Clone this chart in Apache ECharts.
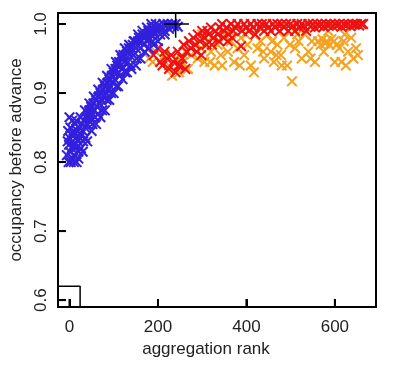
<!DOCTYPE html>
<html>
<head>
<meta charset="utf-8">
<script src="https://cdn.jsdelivr.net/npm/echarts@6/dist/echarts.min.js"></script>
<style>html,body{margin:0;padding:0;background:#fff}#c{width:404px;height:370px}</style>
</head>
<body>
<div id="c"></div>
<script>
var xTicks = [0, 200, 400, 600];
var yTicks = [0.6, 0.7, 0.8, 0.9, 1.0];
var xTitle = 'aggregation rank';
var yTitle = 'occupancy before advance';

var blueData = [[-6,0.81],[-4,0.83],[-3,0.845],[-2,0.80],[-1,0.825],[0,0.835],[1,0.815],[2,0.85],[3,0.80],[4,0.84],[5,0.82],[6,0.86],[7,0.83],[8,0.805],[9,0.845],[10,0.825],[11,0.81],[12,0.84],[13,0.855],[14,0.82],[15,0.835],[16,0.80],[18,0.845],[19,0.83],[20,0.815],[22,0.85],[23,0.835],[25,0.84],[26,0.82],[28,0.855],[30,0.845],[31,0.83],[33,0.86],[35,0.85],[36,0.835],[38,0.865],[40,0.855],[42,0.87],[44,0.86],[45,0.875],[47,0.865],[49,0.88],[50,0.87],[52,0.855],[54,0.885],[56,0.875],[58,0.865],[60,0.89],[62,0.88],[64,0.87],[66,0.895],[68,0.885],[70,0.9],[72,0.89],[74,0.875],[76,0.905],[78,0.895],[80,0.91],[82,0.9],[84,0.89],[86,0.915],[88,0.905],[90,0.92],[92,0.91],[94,0.9],[96,0.925],[98,0.915],[100,0.93],[102,0.92],[104,0.935],[106,0.91],[108,0.94],[110,0.93],[112,0.945],[114,0.925],[116,0.94],[118,0.95],[120,0.935],[122,0.955],[124,0.945],[126,0.93],[128,0.955],[130,0.96],[132,0.945],[134,0.965],[136,0.955],[138,0.94],[140,0.965],[143,0.97],[145,0.955],[147,0.975],[150,0.965],[152,0.95],[155,0.975],[157,0.98],[160,0.965],[162,0.975],[165,0.985],[168,0.97],[170,0.98],[173,0.985],[175,0.975],[178,0.99],[180,0.98],[183,0.985],[186,0.995],[188,0.975],[190,0.99],[193,0.985],[196,0.995],[199,0.99],[202,0.998],[205,0.985],[208,0.995],[212,1.0],[215,0.99],[218,0.997],[222,1.0],[225,0.993],[228,0.998],[232,1.0],[236,0.997],[240,1.0],[245,0.996],
[10,0.80],[20,0.805],[30,0.815],[40,0.83],[50,0.845],[60,0.855],[70,0.865],[80,0.875],[90,0.89],[100,0.9],[110,0.91],[120,0.92],[130,0.93],[140,0.935],[150,0.94],[160,0.95],[170,0.96],[180,0.965],[190,0.97],[200,0.975],[215,0.985],
[0,0.865],[15,0.86],[25,0.865],[35,0.875],[45,0.885],[55,0.895],[65,0.905],[75,0.915],[85,0.925],[95,0.935],[105,0.945],[115,0.955],[125,0.965],[135,0.97],[145,0.975],[155,0.985],[165,0.99],[175,0.995],[185,1.0],[195,1.0]];

var redData = [[190,0.955],[200,0.965],[205,0.945],[210,0.94],[215,0.96],[220,0.95],[225,0.935],[230,0.955],[235,0.945],[240,0.93],[245,0.96],[247,0.94],[250,0.94],[255,0.95],[258,0.97],[262,0.935],[265,0.96],[270,0.975],[275,0.965],[280,0.98],[285,0.97],[288,0.96],[290,0.985],[295,0.975],[298,0.955],[300,0.99],[305,0.98],[310,0.97],[312,0.99],[315,0.985],[320,0.995],[322,0.97],[325,0.98],[330,0.99],[335,0.985],[338,0.975],[340,0.995],[345,1.0],[348,0.98],[350,0.99],[355,0.995],[358,0.975],[360,0.985],[365,1.0],[368,0.98],[370,0.99],[375,0.995],[380,1.0],[388,0.968],[390,0.99],[395,1.0],[400,0.995],[405,0.99],[410,1.0],[415,0.995],[420,0.985],[425,1.0],[430,0.995],[435,1.0],[440,0.99],[445,1.0],[450,0.995],[455,0.99],[460,1.0],[465,0.995],[470,1.0],[475,0.99],[480,1.0],[485,0.995],[490,1.0],[495,0.99],[500,1.0],[505,0.997],[510,0.99],[515,1.0],[520,0.995],[525,1.0],[530,0.997],[535,0.99],[540,1.0],[545,0.996],[550,1.0],[555,0.995],[560,1.0],[565,0.997],[570,1.0],[575,0.996],[580,1.0],[585,0.998],[590,1.0],[595,0.997],[600,1.0],[605,0.998],[610,1.0],[615,0.996],[620,1.0],[625,0.998],[630,1.0],[635,0.997],[640,1.0],[645,0.999],[650,1.0],[655,0.998],[660,1.0],[664,1.0]];

var orangeData = [[180,0.95],[188,0.945],[195,0.96],[215,0.955],[225,0.94],[232,0.925],[240,0.95],[248,0.93],[255,0.945],[262,0.96],[268,0.935],[275,0.955],[282,0.97],[290,0.95],[298,0.965],[300,0.985],[305,0.945],[312,0.975],[318,0.945],[320,0.96],[328,0.94],[335,0.97],[342,0.955],[345,0.94],[350,0.985],[358,0.96],[362,0.99],[365,0.975],[372,0.945],[380,0.965],[385,0.94],[388,0.98],[395,0.955],[398,0.985],[402,0.97],[410,0.94],[417,0.93],[420,0.985],[425,0.965],[432,0.975],[438,0.96],[440,0.95],[448,0.985],[455,0.96],[458,0.975],[462,0.945],[468,0.955],[470,0.97],[478,0.955],[480,0.94],[485,0.98],[492,0.94],[498,0.97],[503,0.917],[510,0.965],[515,0.985],[518,0.975],[525,0.95],[532,0.985],[540,0.96],[545,0.95],[548,0.975],[555,0.945],[562,0.975],[568,0.97],[572,0.978],[575,0.96],[578,0.972],[582,0.975],[585,0.99],[588,0.97],[592,0.978],[598,0.975],[600,0.945],[604,0.97],[610,0.965],[615,0.945],[620,0.975],[622,0.985],[625,0.94],[630,0.96],[637,0.98],[642,0.95],[648,0.965],[652,0.955]];

var crossH = [[214,1.0],[270,1.0]];
var crossV = [[240,0.98],[240,1.02]];
var boxLines = [[24,0.59],[24,0.62],[-26,0.62]];

var X_MIN = -26, X_MAX = 693, Y_MIN = 0.59, Y_MAX = 1.016;
var xSym = 'path://M0,1.3L1.3,0L10,8.7L8.7,10Z M8.7,0L10,1.3L1.3,10L0,8.7Z';
var font = 'Liberation Sans, Arial, sans-serif';

function scatter(data, color) {
  return { type: 'scatter', data: data, symbol: xSym, symbolSize: 11,
    itemStyle: { color: color, opacity: 1 }, silent: true };
}
function seg(data, w, clip) {
  return { type: 'line', data: data, symbol: 'none', clip: clip !== false,
    lineStyle: { color: '#000', width: w || 1.5 }, silent: true, z: 10 };
}
// inside tick marks (8px) built from the tick arrays via the axis scales
var xTickLen = (Y_MAX - Y_MIN) * 8 / 294;
var yTickLen = (X_MAX - X_MIN) * 8 / 320;
var tickSeries = xTicks.map(function (t) { return seg([[t, Y_MIN], [t, Y_MIN + xTickLen]], 2, false); })
  .concat(yTicks.map(function (t) { return seg([[X_MIN, t], [X_MIN + yTickLen, t]], 2, false); }));

var chart = echarts.init(document.getElementById('c'), null, { renderer: 'canvas' });
chart.setOption({
  animation: false,
  backgroundColor: '#fff',
  grid: { left: 56, right: 28, top: 13, bottom: 63, show: true, borderColor: '#000', borderWidth: 2, backgroundColor: 'transparent' },
  xAxis: {
    type: 'value', min: X_MIN, max: X_MAX,
    name: xTitle, nameLocation: 'middle', nameGap: 30,
    nameTextStyle: { fontFamily: font, fontSize: 17, color: '#222', padding: [0, 22, 0, 0] },
    axisLine: { show: true, onZero: false, lineStyle: { color: '#000', width: 2 } },
    axisTick: { show: true, inside: true, length: 8, customValues: xTicks, lineStyle: { color: '#000', width: 2 } },
    axisLabel: { customValues: xTicks, margin: 12, fontFamily: font, fontSize: 17, color: '#222' },
    splitLine: { show: false }
  },
  yAxis: {
    type: 'value', min: Y_MIN, max: Y_MAX,
    name: yTitle, nameLocation: 'middle', nameGap: 33,
    nameTextStyle: { fontFamily: font, fontSize: 17, color: '#222' },
    axisLine: { show: true, onZero: false, lineStyle: { color: '#000', width: 2 } },
    axisTick: { show: true, inside: true, length: 8, customValues: yTicks, lineStyle: { color: '#000', width: 2 } },
    axisLabel: { customValues: yTicks, rotate: 90, margin: 8, fontFamily: font, fontSize: 17, color: '#222',
      formatter: function (v) { return v.toFixed(1); } },
    splitLine: { show: false }
  },
  series: [
    scatter(orangeData, '#f3a320'),
    scatter(redData, '#ee1111'),
    scatter(blueData, '#3320dd'),
    seg(crossH), seg(crossV), seg(boxLines)
  ].concat(tickSeries)
});
</script>
</body>
</html>
